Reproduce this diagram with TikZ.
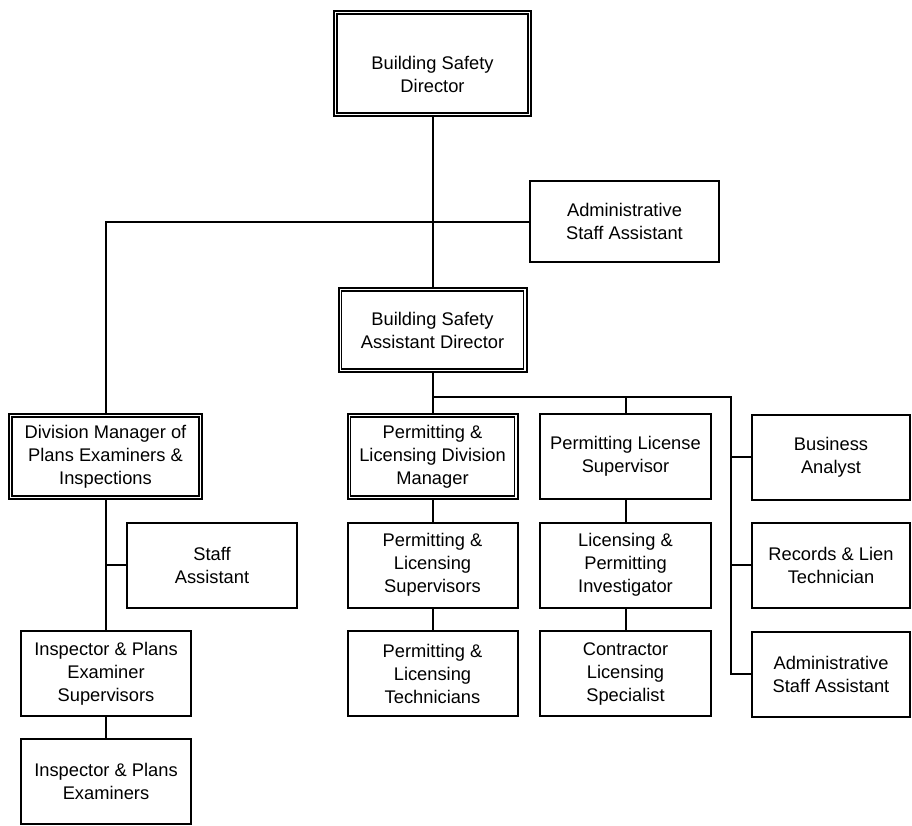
\documentclass[tikz,border=0pt]{standalone}
\usepackage{fontspec}
\setmainfont{Liberation Sans}
\begin{document}
\begin{tikzpicture}[x=1pt,y=-1pt,
  box/.style={draw, line width=2pt, align=center, inner sep=0pt,
    font=\fontsize{18.3}{23}\selectfont, minimum height=85pt},
  wA/.style={box, minimum width=170pt},
  wR/.style={box, minimum width=158pt},
  link/.style={line width=2pt},
  innerline/.style={line width=1.5pt}]
\useasboundingbox (0,0) rectangle (912,825);

% top level
\node[box, minimum width=197pt, minimum height=105pt] (dir) at (432.5,63.5)
  {\raisebox{-13pt}[\height][\depth]{\begin{tabular}{@{}c@{}}Building Safety\\Director\end{tabular}}};
\node[box, minimum width=189pt, minimum height=81pt] (adm1) at (624.5,221.5)
  {Administrative\\Staff Assistant};
\node[box, minimum width=188pt, minimum height=84pt] (adir) at (432.5,330)
  {Building Safety\\Assistant Director};

% second row
\node[box, minimum width=193pt] (dm) at (105.5,456.5)
  {Division Manager of\\Plans Examiners \&\\Inspections};
\node[wA] (pldm) at (432.5,456.5) {Permitting \&\\Licensing Division\\Manager};
\node[wA, minimum width=171pt] (plsup) at (625.5,456.5) {Permitting License\\Supervisor};
\node[wR] (ba) at (831,457) {Business\\Analyst};

% third row
\node[wA] (sa) at (212,565) {Staff\\Assistant};
\node[wA] (pls) at (432.5,565) {Permitting \&\\Licensing\\Supervisors};
\node[wA, minimum width=171pt] (lpi) at (625.5,565) {Licensing \&\\Permitting\\Investigator};
\node[wR] (rlt) at (831,565) {Records \& Lien\\Technician};

% fourth row
\node[wA] (ips) at (106,673.5) {Inspector \& Plans\\Examiner\\Supervisors};
\node[wA] (plt) at (432.5,673.5) {Permitting \&\\Licensing\\Technicians};
\node[wA, minimum width=171pt] (cls) at (625.5,673.5) {Contractor\\Licensing\\Specialist};
\node[wR] (adm2) at (831,674) {Administrative\\Staff Assistant};

% fifth row
\node[wA] (ipe) at (106,781.5) {Inspector \& Plans\\Examiners};

% inner frames of the double-bordered boxes
\foreach \n in {dir,adir,dm,pldm}
  \draw[innerline] ([xshift=4pt,yshift=-4pt]\n.north west)
    rectangle ([xshift=-4pt,yshift=4pt]\n.south east);

% connectors
\coordinate (bus) at (731,397);
\draw[link] (dir.south) -- (adir.north);
\draw[link] (adm1.west) -| (dm.north);
\draw[link] (adir.south) -- (adir.south |- bus) -- (bus) -- (bus |- adm2.west) -- (adm2.west);
\draw[link] (pldm.north) -- (pldm.north |- bus);
\draw[link] (plsup.north) -- (plsup.north |- bus);
\draw[link] (ba.west) -- (bus |- ba.west);
\draw[link] (rlt.west) -- (bus |- rlt.west);
\draw[link] (pldm.south) -- (pls.north);
\draw[link] (pls.south) -- (plt.north);
\draw[link] (plsup.south) -- (lpi.north);
\draw[link] (lpi.south) -- (cls.north);
\draw[link] (dm.south) -- (dm.south |- ips.north);
\draw[link] (sa.west) -- (dm.south |- sa.west);
\draw[link] (ips.south) -- (ipe.north);
\end{tikzpicture}
\end{document}
